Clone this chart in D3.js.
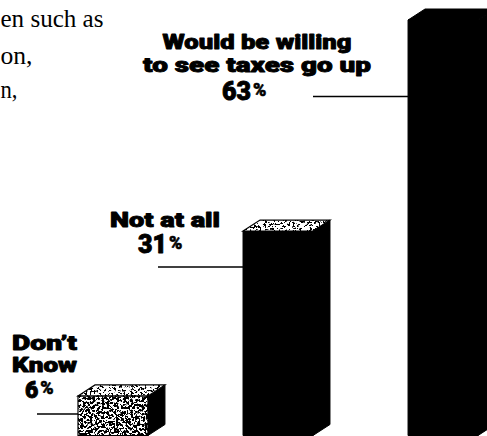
<!DOCTYPE html>
<html>
<head>
<meta charset="utf-8">
<script src="https://cdn.jsdelivr.net/npm/d3@7"></script>
<style>
  html, body { margin: 0; padding: 0; background: #fff; }
  svg { display: block; }
</style>
</head>
<body>
<script>
// Survey answers and their shares (%)
const categories = ["Don’t Know", "Not at all", "Would be willing to see taxes go up"];
const values = [6, 31, 63];
// Label text, split into the lines it is set on
const labelLines = [["Don’t", "Know"], ["Not at all"], ["Would be willing", "to see taxes go up"]];
// Tail of the running paragraph beside the chart
const bodyLines = ["en such as", "on,", "n,"];

const W = 487, H = 436;
const svg = d3.select("body").append("svg").attr("width", W).attr("height", H);

// Grainy halftone fill for the lighter faces
const defs = svg.append("defs");
function stipple(id, threshold, freq) {
  const f = defs.append("filter").attr("id", id)
    .attr("x", "-5%").attr("y", "-5%").attr("width", "110%").attr("height", "110%");
  f.append("feTurbulence").attr("type", "fractalNoise").attr("baseFrequency", freq)
    .attr("numOctaves", 4).attr("seed", 11).attr("result", "noise");
  f.append("feColorMatrix").attr("in", "noise").attr("type", "matrix")
    .attr("values", "0 0 0 0 0  0 0 0 0 0  0 0 0 0 0  1 0 0 0 0").attr("result", "mono");
  const ct = f.append("feComponentTransfer").attr("in", "mono").attr("result", "dots");
  ct.append("feFuncA").attr("type", "linear").attr("slope", 25).attr("intercept", -25 * threshold);
  f.append("feComposite").attr("in", "dots").attr("in2", "SourceGraphic").attr("operator", "in");
}
stipple("grainLight", 0.55, 0.42);
stipple("grainMid", 0.47, 0.42);

const x = d3.scaleBand().domain(categories).range([78, 478]).paddingInner(0.576).paddingOuter(0);
const y = d3.scaleLinear().domain([0, 63]).range([435.5, 20]);
const dx = 17, dy = 11;

// Face treatment per bar: front, top
const faceStyle = [
  { front: "grainMid", top: "grainLight" },
  { front: "solid", top: "grainLight" },
  { front: "solid", top: "solid" }
];

const bars = svg.append("g").selectAll("g.bar")
  .data(categories.map((c, i) => ({ c, v: values[i], i })))
  .join("g").attr("class", "bar");

function face(g, pts, kind) {
  const p = pts.map(d => d.join(",")).join(" ");
  if (kind === "solid") {
    g.append("polygon").attr("points", p).attr("fill", "#000").attr("stroke", "#000").attr("stroke-width", 1);
  } else {
    g.append("polygon").attr("points", p).attr("fill", "#fff");
    g.append("polygon").attr("points", p).attr("fill", "#000").attr("filter", `url(#${kind})`);
    g.append("polygon").attr("points", p).attr("fill", "none").attr("stroke", "#000").attr("stroke-width", 1.2);
  }
}

bars.each(function (d) {
  const g = d3.select(this);
  const x0 = x(d.c), x1 = x0 + x.bandwidth();
  const yT = y(d.v), yB = y(0);
  const st = faceStyle[d.i];
  face(g, [[x1, yT], [x1 + dx, yT - dy], [x1 + dx, yB - dy], [x1, yB]], "solid");
  face(g, [[x0, yT], [x1, yT], [x1, yB], [x0, yB]], st.front);
  face(g, [[x0, yT], [x0 + dx, yT - dy], [x1 + dx, yT - dy], [x1, yT]], st.top);
});

// Callout labels: centre x, first baseline, line gap, number start x, baseline and size, leader start x and y
const labelLayout = [
  { cx: 44.5, y0: 350, gap: 22, nx: 25, ny: 398, ns: 23, lx: 37, ly: 414 },
  { cx: 165, y0: 227, gap: 26, nx: 138, ny: 253, ns: 25, lx: 158, ly: 267 },
  { cx: 257, y0: 49, gap: 23, nx: 222, ny: 100, ns: 25, lx: 313, ly: 96.5 }
];
const lineWidths = [[65, 65], [110], [189, 228]];

const labels = svg.append("g")
  .style("font-family", "Roboto, Lato, 'DejaVu Sans', sans-serif")
  .style("font-weight", 900)
  .attr("fill", "#000").attr("stroke", "#000").attr("stroke-width", 0.9)
  .attr("stroke-linejoin", "round");

categories.forEach((c, i) => {
  const L = labelLayout[i];
  labelLines[i].forEach((t, j) => {
    labels.append("text")
      .attr("x", L.cx).attr("y", L.y0 + j * L.gap)
      .attr("text-anchor", "middle")
      .attr("font-size", 21)
      .attr("textLength", lineWidths[i][j])
      .attr("lengthAdjust", "spacingAndGlyphs")
      .text(t);
  });
  const num = labels.append("text")
    .attr("x", L.nx).attr("y", L.ny)
    .attr("font-size", L.ns);
  num.append("tspan").text(values[i]);
  num.append("tspan").attr("font-size", 18).attr("dx", 2).attr("dy", -4)
    .attr("stroke-width", 0.6).text("%");
  labels.append("line")
    .attr("x1", L.lx).attr("x2", x(c))
    .attr("y1", L.ly).attr("y2", L.ly)
    .attr("stroke", "#000").attr("stroke-width", 1.4);
});

// Running text
const bodyWidths = [103, 32, 17];
const bodyBase = [27, 64, 98];
svg.append("g")
  .style("font-family", "'Liberation Serif', 'DejaVu Serif', serif")
  .attr("font-size", 26)
  .selectAll("text").data(bodyLines).join("text")
  .attr("x", 0.5).attr("y", (d, i) => bodyBase[i])
  .attr("textLength", (d, i) => bodyWidths[i])
  .attr("lengthAdjust", "spacingAndGlyphs")
  .text(d => d);
</script>
</body>
</html>
